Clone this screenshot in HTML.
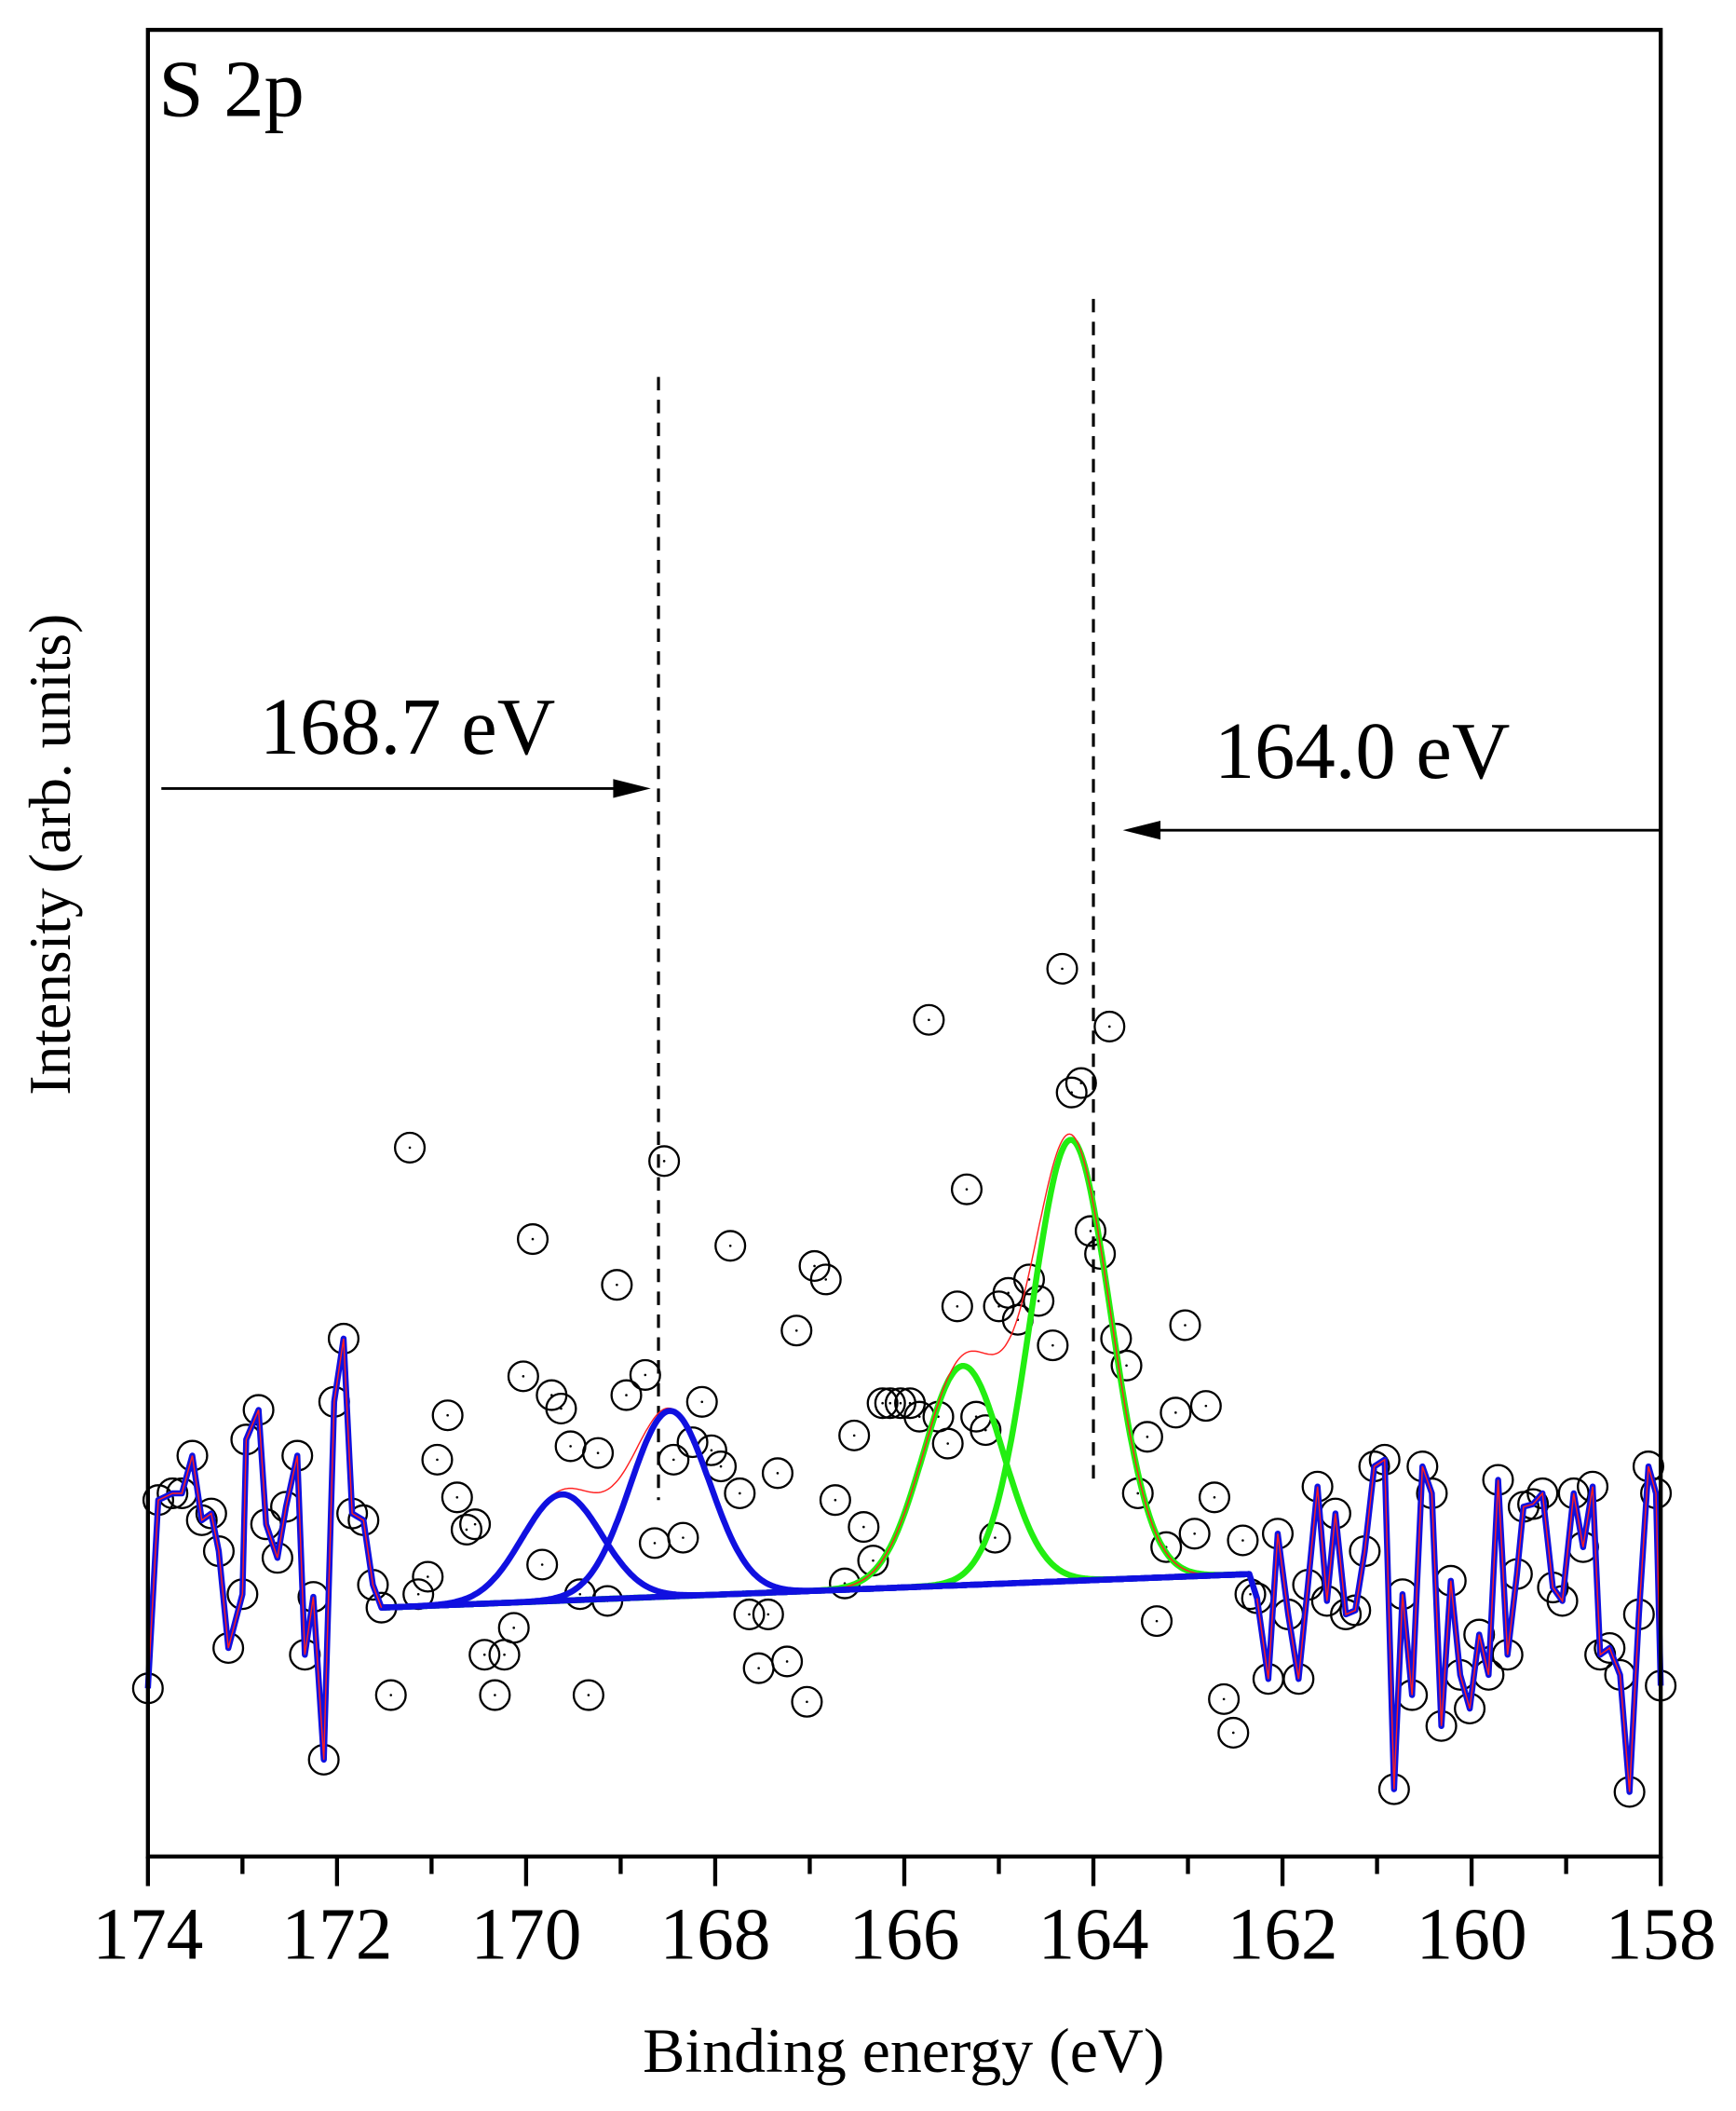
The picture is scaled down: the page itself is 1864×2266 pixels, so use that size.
<!DOCTYPE html>
<html><head><meta charset="utf-8"><style>
html,body{margin:0;padding:0;background:#fff}
svg{display:block}
text{font-family:"Liberation Serif",serif;fill:#000}
</style></head><body>
<svg id="chart" width="1864" height="2266" viewBox="0 0 1291 1569" xmlns="http://www.w3.org/2000/svg">
<rect x="110" y="22" width="1125" height="1358" fill="#fff" stroke="none"/>
<g id="marks"></g>
<rect x="110" y="22" width="1125" height="1358" fill="none" stroke="#000" stroke-width="3"/>
<g id="axis"></g>
<text x="118" y="86" font-size="60">S 2p</text>
<text x="672" y="1540" font-size="47" text-anchor="middle">Binding energy (eV)</text>
<text transform="translate(52,635) rotate(-90)" font-size="44" text-anchor="middle">Intensity (arb. units)</text>
</svg>
<script>
const leftE=[174.00,173.89,173.74,173.64,173.53,173.43,173.33,173.25,173.15,173.00,172.96,172.83,172.75,172.63,172.54,172.42,172.34,172.25,172.14,172.03,171.93,171.84,171.72,171.62,171.53];
const leftI=[125,265,270,270,298,250,255,227,155,195,310,332,247,222,260,298,150,193,72,338,385,255,250,202,185];
const midE=[171.43,171.23,171.14,171.04,170.94,170.83,170.73,170.63,170.54,170.44,170.33,170.23,170.13,170.03,169.93,169.83,169.73,169.63,169.53,169.43,169.34,169.24,169.14,169.04,168.94,168.74,168.64,168.54,168.44,168.34,168.24,168.14,168.04,167.94,167.84,167.74,167.64,167.54,167.44,167.34,167.24,167.14,167.03,166.95,166.83,166.73,166.63,166.53,166.43,166.33,166.23,166.15,166.04,165.94,165.84,165.74,165.64,165.54,165.44,165.34,165.24,165.14,165.04,165.00,164.90,164.80,164.68,164.58,164.43,164.33,164.23,164.13,164.03,163.93,163.83,163.76,163.65,163.53,163.43,163.33,163.23,163.13,163.03,162.93,162.81,162.72,162.62,162.52,162.42,162.34];
const midI=[120,527,195,208,295,328,267,243,247,150,120,150,170,357,459,217,343,333,305,195,120,300,190,425,343,358,233,517,295,237,308,338,302,290,454,270,180,140,180,285,145,391,115,439,429,265,203,313,245,220,337,337,337,337,327,622,327,307,409,496,327,317,237,409,419,399,429,413,380,660,568,575,465,448,617,385,365,270,312,175,230,330,395,240,335,267,117,92,235,195];
const rightE=[162.27,162.15,162.05,161.94,161.83,161.73,161.63,161.53,161.44,161.33,161.23,161.13,161.03,160.92,160.82,160.73,160.63,160.52,160.42,160.32,160.22,160.12,160.02,159.92,159.82,159.72,159.62,159.52,159.45,159.35,159.25,159.14,159.04,158.92,158.82,158.72,158.64,158.54,158.43,158.33,158.23,158.13,158.05,158.00];
const rightI=[192,132,240,180,132,202,275,190,255,180,183,227,290,295,50,195,120,290,270,97,205,135,110,165,135,280,150,210,260,262,270,200,190,270,230,275,150,155,135,48,180,290,270,127];
const peakCenters=[169.62,168.48,165.38,164.24];
const peakHeights=[79,138,163,328];
const peakSigmas=[0.42,0.42,0.42,0.42];
const peakColors=['#1010e0','#1010e0','#22ee11','#22ee11'];
const baseE=[171.53,162.34];
const baseI=[185,210];
const xTicks=[174,172,170,168,166,164,162,160,158];

const X0=110,X1=1235,Y0=1380;
const xs=e=>X0+(174-e)/16*(X1-X0);
const ys=v=>Y0-v;
const NS='http://www.w3.org/2000/svg';
const marks=document.getElementById('marks'),axis=document.getElementById('axis');
function mk(tag,attrs,parent){const el=document.createElementNS(NS,tag);for(const k in attrs)el.setAttribute(k,attrs[k]);parent.appendChild(el);return el;}
const base=e=>baseI[0]+(baseI[1]-baseI[0])*(baseE[0]-e)/(baseE[0]-baseE[1]);
const g=(e,i)=>peakHeights[i]*Math.exp(-0.5*Math.pow((e-peakCenters[i])/peakSigmas[i],2));
const fitE=[];for(let e=baseE[0];e>=baseE[1]-1e-9;e-=0.02)fitE.push(e);
const pathOf=pts=>'M'+pts.map(p=>p[0].toFixed(1)+','+p[1].toFixed(1)).join('L');

const allE=leftE.concat(midE,rightE),allI=leftI.concat(midI,rightI);
allE.forEach((e,i)=>{
  const c=mk('circle',{cx:xs(e),cy:ys(allI[i]),r:11,fill:'none',stroke:'#000','stroke-width':1.6},marks);
  
  
  const d=mk('circle',{cx:xs(e),cy:ys(allI[i]),r:0.9,fill:'#000'},marks);
  
  
});
const dl1=mk('line',{x1:xs(168.6),x2:xs(168.6),y1:280,y2:1115,stroke:'#000','stroke-width':2.2,'stroke-dasharray':'10,7'},marks);


const dl2=mk('line',{x1:xs(164.0),x2:xs(164.0),y1:222,y2:1105,stroke:'#000','stroke-width':2.2,'stroke-dasharray':'10,7'},marks);


[2,3].forEach(i=>{
  const p=mk('path',{d:pathOf(fitE.map(e=>[xs(e),ys(base(e)+g(e,i))])),fill:'none',stroke:peakColors[i],'stroke-width':4.5},marks);
  
  
});
const env=mk('path',{d:pathOf(fitE.map(e=>[xs(e),ys(base(e)+g(e,0)+g(e,1)+g(e,2)+g(e,3))])),fill:'none',stroke:'#ff2020','stroke-width':1},marks);


[0,1].forEach(i=>{
  const p=mk('path',{d:pathOf(fitE.map(e=>[xs(e),ys(base(e)+g(e,i))])),fill:'none',stroke:peakColors[i],'stroke-width':4.5},marks);
  
  
});
const linePts=leftE.map((e,i)=>[xs(e),ys(leftI[i])]).concat(fitE.map(e=>[xs(e),ys(base(e))]),rightE.map((e,i)=>[xs(e),ys(rightI[i])]));
const bl=mk('path',{d:pathOf(linePts),fill:'none',stroke:'#1010e0','stroke-width':4.5,'stroke-linejoin':'round'},marks);


const rl1=mk('path',{d:pathOf(leftE.map((e,i)=>[xs(e),ys(leftI[i])])),fill:'none',stroke:'#ff2020','stroke-width':1},marks);


const rl2=mk('path',{d:pathOf(rightE.map((e,i)=>[xs(e),ys(rightI[i])])),fill:'none',stroke:'#ff2020','stroke-width':1},marks);


const a1=mk('line',{x1:120,x2:470,y1:586,y2:586,stroke:'#000','stroke-width':2},marks);


const h1=mk('polygon',{points:'484,586 456,579 456,593',fill:'#000'},marks);


const t1=mk('text',{x:303,y:560,'font-size':60,'text-anchor':'middle'},marks);t1.textContent='168.7 eV';


const a2=mk('line',{x1:1235,x2:850,y1:617,y2:617,stroke:'#000','stroke-width':2},marks);


const h2=mk('polygon',{points:'835,617 863,610 863,624',fill:'#000'},marks);


const t2=mk('text',{x:1013,y:578,'font-size':60,'text-anchor':'middle'},marks);t2.textContent='164.0 eV';


xTicks.forEach(v=>{
  const t=mk('line',{x1:xs(v),x2:xs(v),y1:Y0,y2:Y0+22,stroke:'#000','stroke-width':3},axis);
  
  
  const l=mk('text',{x:xs(v),y:1456,'font-size':55,'text-anchor':'middle'},axis);l.textContent=v;
  
  
});
for(let i=0;i<xTicks.length-1;i++){
  const v=(xTicks[i]+xTicks[i+1])/2;
  const t=mk('line',{x1:xs(v),x2:xs(v),y1:Y0,y2:Y0+13,stroke:'#000','stroke-width':3},axis);
  
  
}
</script>
</body></html>
